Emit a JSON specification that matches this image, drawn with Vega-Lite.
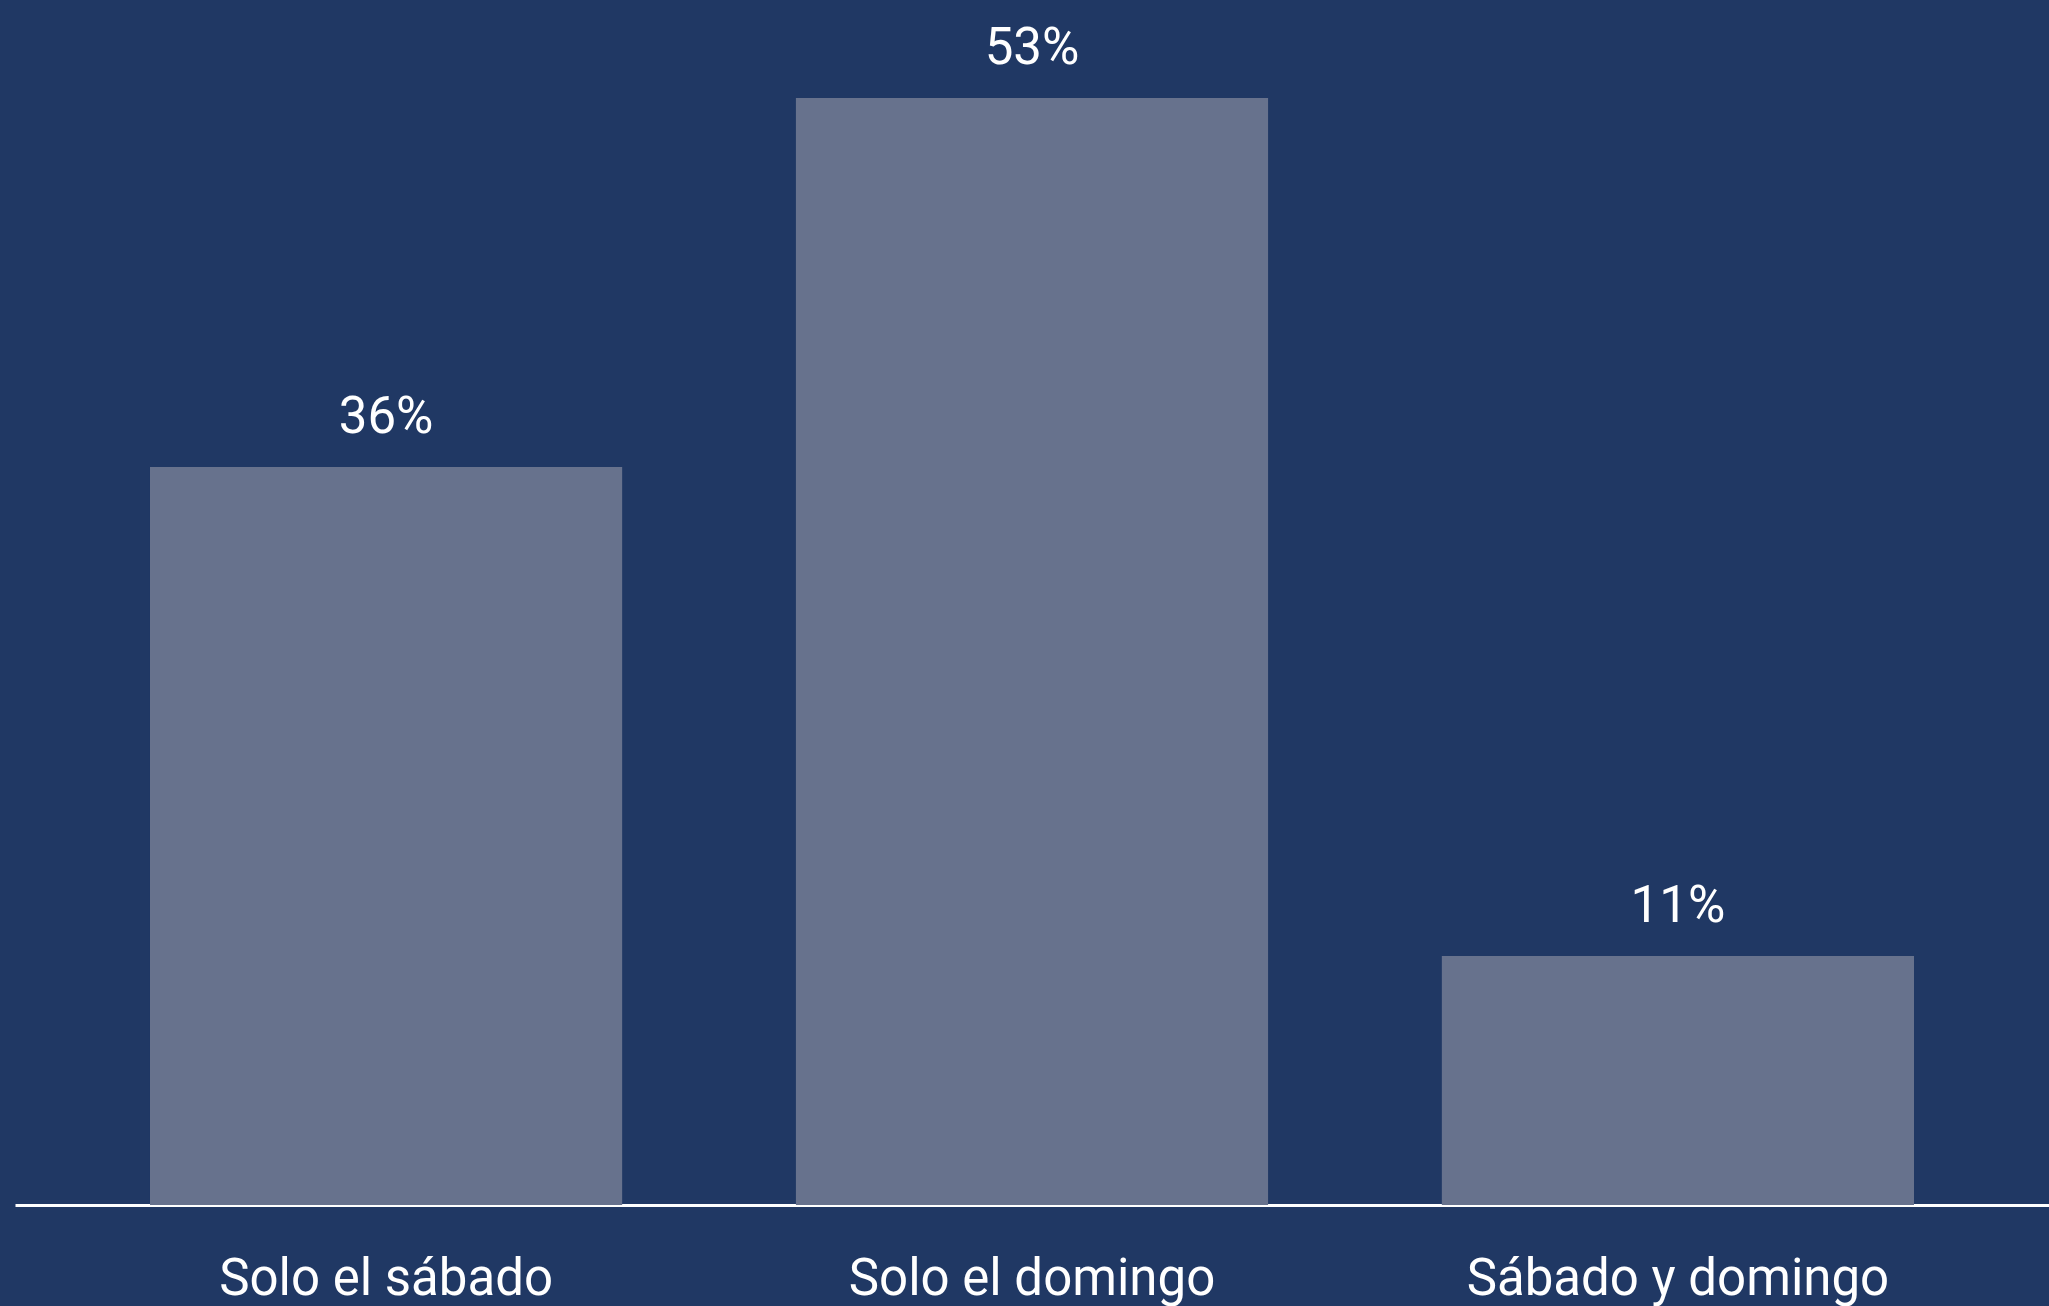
{
  "$schema": "https://vega.github.io/schema/vega-lite/v6.json",
  "width": 2034,
  "height": 1205,
  "autosize": {"type": "none"},
  "padding": {"left": 15, "top": 0, "right": 0, "bottom": 101},
  "background": "#203864",
  "config": {"view": {"stroke": null}, "font": "Roboto"},
  "data": {
    "values": [
      {"categoria": "Solo el sábado", "valor": 35.33, "etiqueta": "36%"},
      {"categoria": "Solo el domingo", "valor": 53.0, "etiqueta": "53%"},
      {"categoria": "Sábado y domingo", "valor": 11.92, "etiqueta": "11%"}
    ]
  },
  "encoding": {
    "x": {
      "field": "categoria",
      "type": "nominal",
      "sort": null,
      "scale": {"paddingInner": 0.269, "paddingOuter": 0.209},
      "axis": {
        "title": null,
        "labelAngle": 0,
        "labelFontSize": 51,
        "labelColor": "#ffffff",
        "labelFont": "Roboto",
        "labelBaseline": "alphabetic",
        "labelPadding": 89,
        "labelLimit": 800,
        "ticks": false,
        "tickSize": 0,
        "domainColor": "#ffffff",
        "domainWidth": 3,
        "grid": false
      }
    },
    "y": {
      "field": "valor",
      "type": "quantitative",
      "scale": {"domain": [0, 57.69], "nice": false, "zero": true},
      "axis": null
    }
  },
  "layer": [
    {"mark": {"type": "bar", "color": "#67728d"}},
    {
      "mark": {"type": "text", "color": "#ffffff", "fontSize": 51, "baseline": "alphabetic", "dy": -34, "font": "Roboto"},
      "encoding": {"text": {"field": "etiqueta"}}
    }
  ]
}
